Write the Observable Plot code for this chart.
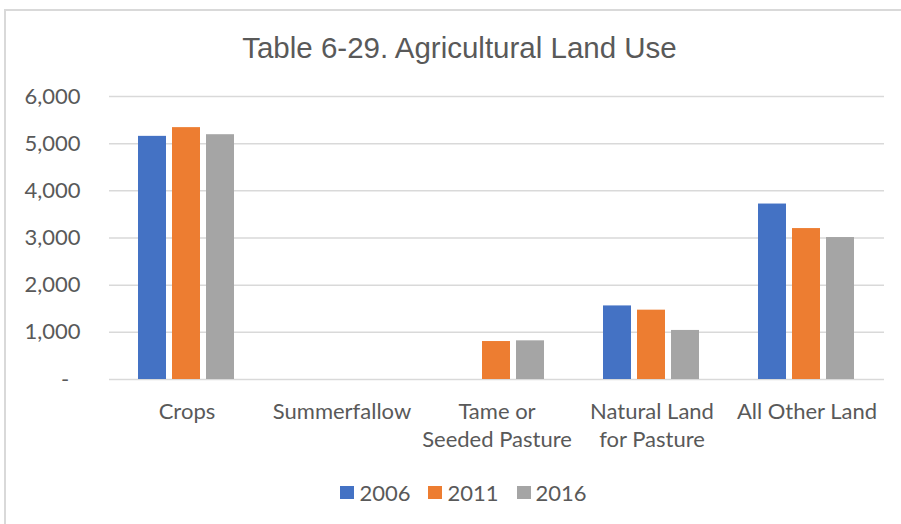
<!DOCTYPE html>
<html>
<head>
<meta charset="utf-8">
<script src="https://cdn.jsdelivr.net/npm/d3@7"></script>
<script src="https://cdn.jsdelivr.net/npm/@observablehq/plot@0.6"></script>
<style>
  html, body { margin: 0; padding: 0; background: #fff; overflow: hidden; }
  #wrap { position: relative; width: 901px; height: 524px; overflow: hidden; }
  #frame { position: absolute; left: 4px; top: 9px; width: 1000px; height: 1000px; border: 2px solid #d9d9d9; box-sizing: border-box; }
  #title { position: absolute; left: 0; top: 33px; width: 919px; text-align: center; font-family: "Liberation Sans", Arial, sans-serif; font-size: 29.5px; line-height: 1; color: #595959; white-space: nowrap; }
  #chart { position: absolute; left: 0; top: 70px; }
  #legend { position: absolute; left: 13px; top: 479px; width: 901px; display: flex; justify-content: center; font-family: Lato, sans-serif; font-size: 22px; color: #595959; }
  .item { display: flex; align-items: center; margin: 0 9px; }
  .sw { width: 14px; height: 13px; margin-right: 5px; }
</style>
</head>
<body>
<div id="wrap">
  <div id="frame"></div>
  <div id="title">Table 6-29. Agricultural Land Use</div>
  <div id="chart"></div>
  <div id="legend"></div>
</div>
<script>
const categories = ["Crops", "Summerfallow", "Tame or Seeded Pasture", "Natural Land for Pasture", "All Other Land"];
const categoryLabels = ["Crops", "Summerfallow", "Tame or\nSeeded Pasture", "Natural Land\nfor Pasture", "All Other Land"];
const years = ["2006", "2011", "2016"];
const values2006 = [5155, 0, 0, 1560, 3720];
const values2011 = [5340, 0, 805, 1470, 3200];
const values2016 = [5190, 0, 820, 1040, 3010];
const yTicks = [0, 1000, 2000, 3000, 4000, 5000, 6000];
const colors = ["#4472C4", "#ED7D31", "#A5A5A5"];

const series = [values2006, values2011, values2016];
const rows = [];
categories.forEach((c, i) => {
  years.forEach((y, j) => rows.push({category: c, year: y, value: series[j][i]}));
});
const labelOf = new Map(categories.map((c, i) => [c, categoryLabels[i]]));
const fmt = d3.format(",");

const chart = Plot.plot({
  width: 901,
  height: 400,
  marginLeft: 109,
  marginRight: 17,
  marginTop: 26,
  marginBottom: 91,
  style: {fontFamily: "Lato, sans-serif", fontSize: "22px", color: "#595959", background: "transparent", overflow: "visible"},
  fx: {domain: categories, padding: 0, axis: null},
  x: {domain: years, paddingInner: 0.176, paddingOuter: 0.867, axis: null},
  y: {domain: [0, 6000], ticks: yTicks, tickFormat: d => d === 0 ? "-\u00a0\u00a0" : fmt(d), tickSize: 0, tickPadding: 29, label: null},
  color: {domain: years, range: colors},
  marks: [
    Plot.ruleY(yTicks, {stroke: "#d9d9d9", strokeWidth: 1.5}),
    Plot.barY(rows, {fx: "category", x: "year", y: "value", fill: "year"}),
    Plot.text(categories, {fx: d => d, text: d => labelOf.get(d), frameAnchor: "bottom", lineAnchor: "top", dy: 19, lineHeight: 1.3, fill: "#595959"})
  ]
});
document.getElementById("chart").appendChild(chart);

const legend = document.getElementById("legend");
years.forEach((y, i) => {
  const item = document.createElement("div");
  item.className = "item";
  const sw = document.createElement("div");
  sw.className = "sw";
  sw.style.background = colors[i];
  const t = document.createElement("span");
  t.textContent = y;
  item.appendChild(sw);
  item.appendChild(t);
  legend.appendChild(item);
});
</script>
</body>
</html>
